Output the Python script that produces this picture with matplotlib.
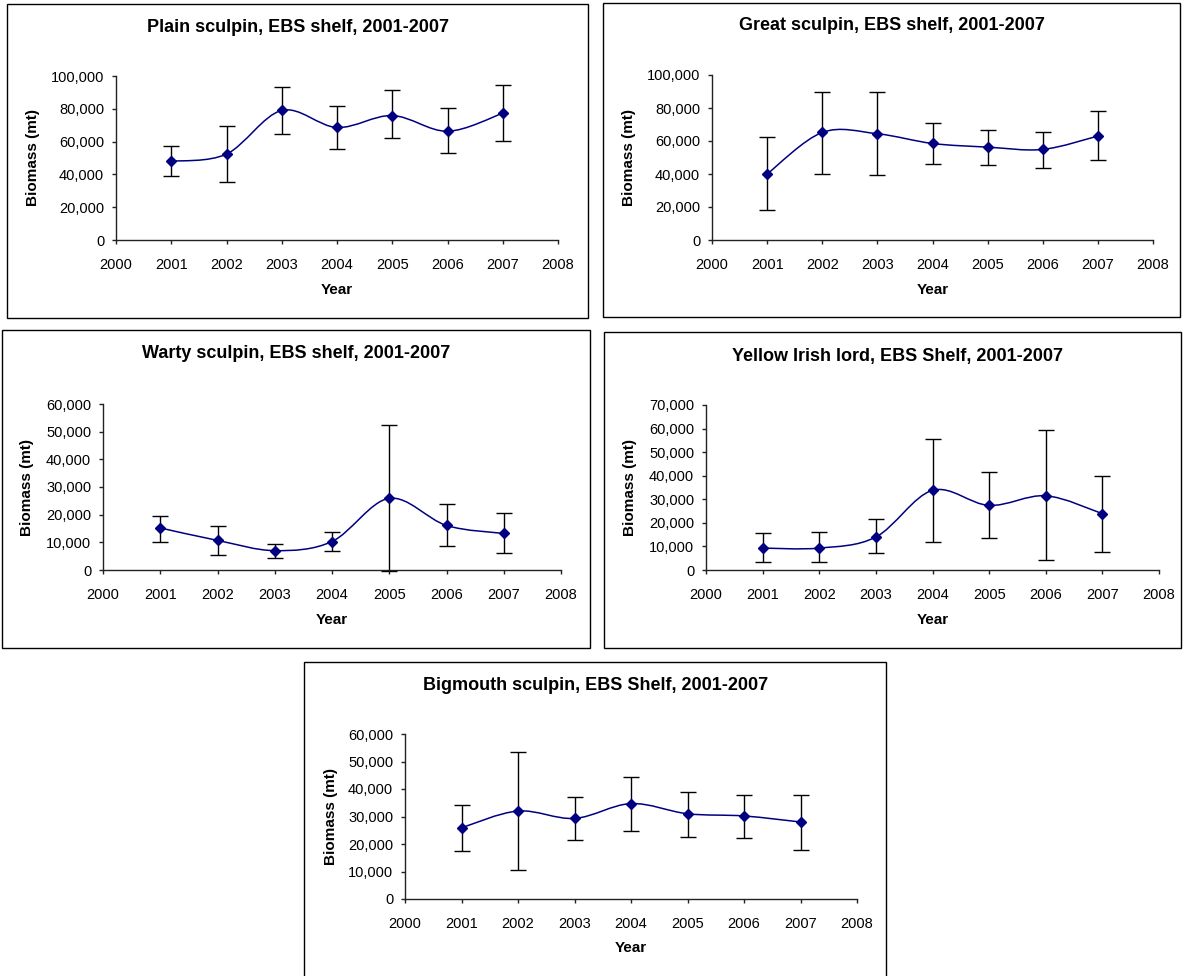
import numpy as np
import matplotlib
matplotlib.use("Agg")
import matplotlib.pyplot as plt
from matplotlib.path import Path
from matplotlib.patches import PathPatch, Rectangle
from matplotlib.ticker import FuncFormatter, MultipleLocator

plt.rcParams["font.family"] = ["Liberation Sans", "DejaVu Sans"]

# ---------------------------------------------------------------- data
years = [2001, 2002, 2003, 2004, 2005, 2006, 2007]

plain_mean = [48000, 52400, 79000, 68600, 75900, 66300, 77300]
plain_low = [39000, 35300, 64900, 55300, 62000, 53100, 60400]
plain_high = [57500, 69400, 93100, 82000, 91200, 80600, 94500]

great_mean = [40000, 65200, 64400, 58500, 56300, 54900, 63000]
great_low = [17900, 40000, 39400, 46100, 45500, 43900, 48200]
great_high = [62400, 89800, 89800, 71100, 66900, 65400, 78000]

warty_mean = [15200, 10700, 7000, 10300, 25900, 16100, 13200]
warty_low = [10200, 5300, 4500, 6700, -300, 8500, 6200]
warty_high = [19500, 16000, 9300, 13700, 52400, 24000, 20500]

yil_mean = [9300, 9300, 14000, 33800, 27400, 31500, 23900]
yil_low = [3300, 3300, 7200, 11900, 13600, 4200, 7800]
yil_high = [15600, 16100, 21500, 55600, 41600, 59300, 40000]

bigmouth_mean = [25900, 32000, 29300, 34700, 31000, 30200, 28000]
bigmouth_low = [17400, 10600, 21400, 24900, 22600, 22200, 17700]
bigmouth_high = [34100, 53300, 37200, 44400, 39000, 37800, 37800]

titles = [
    "Plain sculpin, EBS shelf, 2001-2007",
    "Great sculpin, EBS shelf, 2001-2007",
    "Warty sculpin, EBS shelf, 2001-2007",
    "Yellow Irish lord, EBS Shelf, 2001-2007",
    "Bigmouth sculpin, EBS Shelf, 2001-2007",
]
y_maxes = [100000, 100000, 60000, 70000, 60000]
y_steps = [20000, 20000, 10000, 10000, 10000]
x_range = (2000, 2008)
x_label = "Year"
y_label = "Biomass (mt)"

series = [
    (plain_mean, plain_low, plain_high),
    (great_mean, great_low, great_high),
    (warty_mean, warty_low, warty_high),
    (yil_mean, yil_low, yil_high),
    (bigmouth_mean, bigmouth_low, bigmouth_high),
]

# ---------------------------------------------------------------- layout (pixels)
W, H = 1183, 976
# axes: left, top, right, bottom ; frame: left, top, right, bottom
layout = [
    dict(axes=(116, 76, 558, 240), frame=(7, 4, 588, 318), title=(298, 27), ylab=33, xlab=290),
    dict(axes=(712, 75, 1153, 240), frame=(603, 3, 1180, 317), title=(892, 26), ylab=629, xlab=290),
    dict(axes=(103, 404, 561, 570), frame=(2, 330, 590, 648), title=(296, 354), ylab=27, xlab=620),
    dict(axes=(706, 405, 1159, 570), frame=(604, 332, 1181, 648), title=(897, 356), ylab=630, xlab=620),
    dict(axes=(405, 734, 857, 899), frame=(304, 662, 886, 990), title=(596, 686), ylab=331, xlab=948),
]

NAVY = "#000080"


def smooth_path(x, y):
    """Cubic Bezier through the points with Catmull-Rom style tangents."""
    pts = np.column_stack([x, y]).astype(float)
    n = len(pts)
    verts = [pts[0]]
    codes = [Path.MOVETO]
    for i in range(n - 1):
        p0 = pts[max(i - 1, 0)]
        p1 = pts[i]
        p2 = pts[i + 1]
        p3 = pts[min(i + 2, n - 1)]
        c1 = p1 + (p2 - p0) / 6.0
        c2 = p2 - (p3 - p1) / 6.0
        verts += [c1, c2, p2]
        codes += [Path.CURVE4] * 3
    return Path(verts, codes)


thousands = FuncFormatter(lambda v, pos: f"{int(round(v)):,}")

fig = plt.figure(figsize=(W / 100, H / 100), dpi=100)
fig.patch.set_facecolor("white")

for (mean, low, high), title, ymax, ystep, lay in zip(series, titles, y_maxes, y_steps, layout):
    # panel frame
    fl, ft, fr, fb = lay["frame"]
    fig.add_artist(Rectangle((fl / W, 1 - fb / H), (fr - fl) / W, (fb - ft) / H,
                             transform=fig.transFigure, fill=False,
                             edgecolor="black", linewidth=1.0))

    al, at, ar, ab = lay["axes"]
    ax = fig.add_axes([al / W, 1 - ab / H, (ar - al) / W, (ab - at) / H])
    ax.set_facecolor("none")

    mean = np.asarray(mean, float)
    lower = mean - np.asarray(low, float)
    upper = np.asarray(high, float) - mean

    ax.errorbar(years, mean, yerr=[lower, upper], fmt="none", ecolor="black",
                elinewidth=1.0, capsize=6, capthick=1.0, clip_on=False, zorder=2)
    ax.add_patch(PathPatch(smooth_path(years, mean), facecolor="none",
                           edgecolor=NAVY, linewidth=1.1, zorder=3))
    ax.plot(years, mean, linestyle="none", marker="D", markersize=4.6,
            color=NAVY, zorder=4)

    ax.set_xlim(*x_range)
    ax.set_ylim(0, ymax)
    ax.xaxis.set_major_locator(MultipleLocator(1))
    ax.yaxis.set_major_locator(MultipleLocator(ystep))
    ax.yaxis.set_major_formatter(thousands)

    for side in ("top", "right"):
        ax.spines[side].set_visible(False)
    for side in ("left", "bottom"):
        ax.spines[side].set_color("#222222")
        ax.spines[side].set_linewidth(1.0)

    ax.tick_params(axis="both", direction="out", length=3, width=1.0,
                   color="#222222", labelsize=10.5, labelcolor="black")
    ax.tick_params(axis="x", pad=10)
    ax.tick_params(axis="y", pad=5.5)

    # axis titles
    ax.set_xlabel(x_label, fontsize=11, fontweight="bold", va="center")
    ax.xaxis.set_label_coords(0.5, (ab - lay["xlab"]) / (ab - at))
    ax.set_ylabel(y_label, fontsize=11, fontweight="bold", va="center")
    ax.yaxis.set_label_coords((lay["ylab"] - al) / (ar - al), 0.5)

    # chart title
    tx, ty = lay["title"]
    fig.text(tx / W, 1 - ty / H, title, ha="center", va="center",
             fontsize=13, fontweight="bold")

fig.savefig("out.png", dpi=100, facecolor="white")
